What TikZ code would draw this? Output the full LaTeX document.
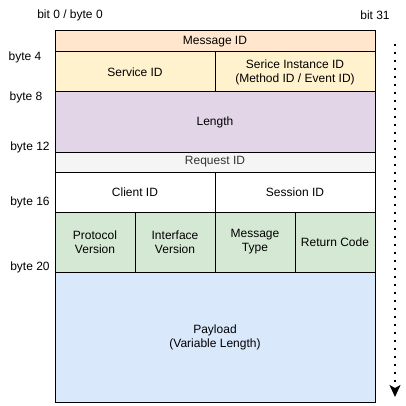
\documentclass[tikz,border=0pt]{standalone}
\usepackage{fontspec}
\setmainfont{Liberation Sans}
\usepackage{xcolor}
\usepackage{tikz}
\usetikzlibrary{positioning}
\usetikzlibrary{arrows.meta}
\definecolor{msgfill}{HTML}{FFE6CC}
\definecolor{svcfill}{HTML}{FFF2CC}
\definecolor{lenfill}{HTML}{E1D5E7}
\definecolor{reqfill}{HTML}{F5F5F5}
\definecolor{reqtext}{HTML}{333333}
\definecolor{hdrfill}{HTML}{D5E8D4}
\definecolor{payfill}{HTML}{DAE8FC}

\begin{document}
\begin{tikzpicture}
  [
    x=1pt, y=-1pt,
    every node/.style={font=\fontsize{12}{14}\selectfont},
    cell/.style={draw=black, line width=1pt, anchor=north west, inner sep=0pt,
    outer sep=0pt, align=center, minimum width=80pt, minimum height=40pt},
    lbl/.style={inner sep=0pt},
    ld/.style={draw=black, line width=1.6pt, dash pattern=on 1.6pt off 6.4pt,
    -{Stealth[length=12pt,width=11pt,inset=3pt]}}
  ]
  \fill [white] (0,0) rectangle (406,406);

  \node (msg)  at ( 55, 31) [cell, minimum width=320pt, minimum height=21pt, fill=msgfill] {Message ID};
  \node (sid)  at ( 55, 52) [cell, minimum width=160pt, fill=svcfill] {Service ID};
  \node (inst) at (215, 52) [cell, minimum width=160pt, fill=svcfill] {Serice Instance ID\\(Method ID / Event ID)};
  \node (len)  at ( 55, 92) [cell, minimum width=320pt, minimum height=60pt, fill=lenfill] {Length};
  \node (req)  at ( 55,152) [cell, minimum width=320pt, minimum height=20pt, fill=reqfill, text=reqtext] {Request ID};
  \node (cli)  at ( 55,172) [cell, minimum width=160pt, fill=white] {Client ID};
  \node (ses)  at (215,172) [cell, minimum width=160pt, fill=white] {Session ID};
  \node (pv)   at ( 55,212) [cell, minimum height=60pt, fill=hdrfill] {Protocol\\Version};
  \node (iv)   at (135,212) [cell, minimum height=60pt, fill=hdrfill] {Interface\\Version};
  \node (mt)   at (215,212) [cell, minimum height=60pt, fill=hdrfill] {Message\\Type};
  \node (rc)   at (295,212) [cell, minimum height=60pt, fill=hdrfill] {Return Code};
  \node (pay)  at ( 55,272) [cell, minimum width=320pt, minimum height=130pt, fill=payfill] {Payload\\(Variable Length)};

  \node (b0)  at ( 70, 15) [lbl] {bit 0 / byte 0};
  \node (b31) at (375, 15) [lbl] {bit 31};
  \node (y4)  at ( 25, 57) [lbl] {byte 4};
  \node (y8)  at ( 26, 97) [lbl] {byte 8};
  \node (y12) at ( 30,147) [lbl] {byte 12};
  \node (y16) at ( 30,202) [lbl] {byte 16};
  \node (y20) at ( 30,267) [lbl] {byte 20};

  \coordinate (top) at (395, 44);
  \coordinate (bot) at (395,397);
  \draw [ld] (top) -- (bot);
\end{tikzpicture}
\end{document}
